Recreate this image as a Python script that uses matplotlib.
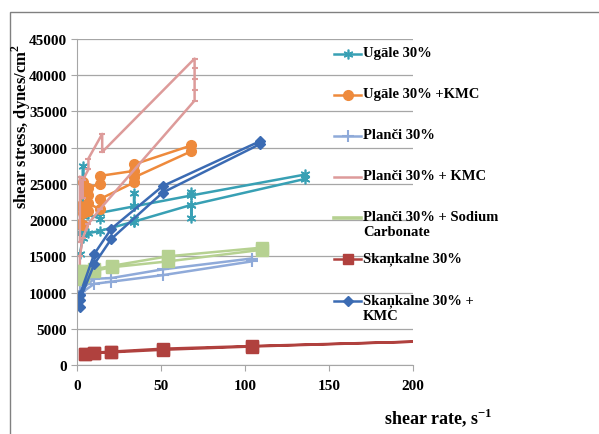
import matplotlib
matplotlib.use('Agg')
import matplotlib.pyplot as plt
from matplotlib.lines import Line2D
from matplotlib.patches import Rectangle

plt.rcParams['font.family'] = ['Liberation Serif', 'DejaVu Serif']
plt.rcParams['font.weight'] = 'bold'
plt.rcParams['mathtext.fontset'] = 'custom'
plt.rcParams['mathtext.rm'] = 'Liberation Serif:bold'

# series: shear rate (x) and shear stress (y), up curve then down curve
ugale_x = [1.7, 3.4, 6.8, 13.6, 34, 34, 34, 68, 68, 68, 136, 136, 68, 68, 68, 34, 34, 34, 13.6, 13.6, 6.8, 3.4, 3.4, 1.7, 1.7]
ugale_y = [15300, 17500, 18200, 18500, 19800, 20200, 19800, 22100, 20300, 22100, 25700, 26300, 23400, 23900, 23400, 21900, 23800, 21900, 21000, 20200, 20800, 27500, 20500, 19000, 18200]

ugale_kmc_x = [1.7, 3.4, 3.4, 6.8, 6.8, 13.6, 13.6, 34, 34, 68, 68, 34, 34, 13.6, 13.6, 6.8, 6.8, 3.4, 1.7]
ugale_kmc_y = [19500, 19300, 21000, 21300, 22300, 21500, 22900, 25200, 25900, 29500, 30300, 27700, 26800, 26100, 25000, 24500, 23400, 25200, 22000]

planci_x = [1.7, 10.2, 20.4, 51, 104, 104, 51, 20.4, 10.2, 1.7]
planci_y = [9800, 11200, 11500, 12400, 14300, 14700, 13200, 12000, 11900, 10200]

planci_kmc_x = [1.7, 1.7, 3.4, 6.8, 13.6, 70, 70, 70, 70, 70, 15, 15, 6.8, 6.8, 3.4, 3.4, 1.7, 1.7]
planci_kmc_y = [13500, 15000, 17500, 19500, 21500, 36500, 38000, 39500, 41000, 42300, 29400, 31900, 28500, 27000, 25500, 23000, 26000, 17000]

planci_sc_x = [1.7, 1.7, 3.4, 10.2, 21, 54, 110, 110, 54, 21, 10.2, 3.4, 1.7]
planci_sc_y = [12000, 11900, 12300, 13000, 13500, 14300, 15900, 16200, 15000, 13700, 13200, 13000, 13000]

skankalne_x = [5, 10.2, 20.4, 51, 104, 208, 104, 51, 20.4, 10.2, 5]
skankalne_y = [1500, 1650, 1750, 2100, 2550, 3270, 2620, 2250, 1850, 1700, 1550]

skankalne_kmc_x = [1.7, 1.7, 10.2, 20.4, 51, 109, 109, 51, 20.4, 10.2, 1.7]
skankalne_kmc_y = [8000, 9000, 13900, 17400, 23800, 30500, 30900, 24700, 18800, 15300, 9700]

labels = ['Ugāle 30%', 'Ugāle 30% +KMC', 'Planči 30%', 'Planči 30% + KMC',
          'Planči 30% + Sodium\nCarbonate', 'Skaņkalne 30%', 'Skaņkalne 30% +\nKMC']
x_ticks = [0, 50, 100, 150, 200]
y_ticks = [0, 5000, 10000, 15000, 20000, 25000, 30000, 35000, 40000, 45000]

W, H = 599, 435


def fx(px):
    return px / W


def fy(py):
    return 1 - py / H


fig = plt.figure(figsize=(W / 100, H / 100), dpi=100)
ax = fig.add_axes([fx(77), fy(366), (413 - 77) / W, (366 - 40) / H])

star = (6, 2, 0)
styles = [
    dict(color='#38A0B4', marker=star, ms=7, mew=1.2),
    dict(color='#EE8A3C', marker='o', ms=7),
    dict(color='#8FAAD9', marker='+', ms=8, mew=1.5),
    dict(color='#DD9B9A', marker='_', ms=5, mew=1.5),
    dict(color='#B6D191', marker='s', ms=9),
    dict(color='#B0413E', marker='s', ms=8),
    dict(color='#3B6BB3', marker='D', ms=5),
]
series = [(ugale_x, ugale_y), (ugale_kmc_x, ugale_kmc_y), (planci_x, planci_y),
          (planci_kmc_x, planci_kmc_y), (planci_sc_x, planci_sc_y),
          (skankalne_x, skankalne_y), (skankalne_kmc_x, skankalne_kmc_y)]

for (xs, ys), st in zip(series, styles):
    ax.plot(xs, ys, lw=1.8, **st)

ax.set_xlim(0, 200)
ax.set_ylim(0, 45000)
ax.set_xticks(x_ticks)
ax.set_yticks(y_ticks)
ax.grid(axis='y', color='#A6A6A6', lw=0.9)
ax.set_axisbelow(True)
for s in ['top', 'right']:
    ax.spines[s].set_visible(False)
for s in ['left', 'bottom']:
    ax.spines[s].set_color('#A6A6A6')
ax.tick_params(length=4, color='#A6A6A6', labelsize=11, pad=3)
ax.tick_params(axis='x', pad=6)

fig.text(fx(21), fy(126), 'shear stress, dynes/cm$^{2}$', rotation=90,
         ha='center', va='center', fontsize=12, fontweight='bold')
fig.text(fx(438), fy(418), 'shear rate, s$^{-1}$', ha='center', va='center',
         fontsize=13, fontweight='bold')

# legend drawn by hand so the handle sits on the first line of wrapped labels
leg_y = [55, 96, 137, 178, 219, 260, 302]
for lab, st, py in zip(labels, styles, leg_y):
    hs = dict(st)
    if lab.startswith('Planči 30% +'):
        hs['marker'] = None
    if 'Sodium' in lab:
        lw = 2.6
    else:
        lw = 1.8
    if hs.get('marker') == 's':
        hs['ms'] = 7
    fig.add_artist(Line2D([fx(334), fx(361)], [fy(py), fy(py)], lw=lw,
                          transform=fig.transFigure, **{k: v for k, v in hs.items() if k != 'marker'}))
    if hs.get('marker'):
        fig.add_artist(Line2D([fx(347.5)], [fy(py)], transform=fig.transFigure, lw=0, **hs))
    fig.text(fx(363), fy(py - 8), lab, ha='left', va='top', fontsize=10.5,
             fontweight='bold', linespacing=1.25)

fig.add_artist(Rectangle((fx(10), -0.1), 1.2, fy(13) + 0.1, transform=fig.transFigure,
                         fill=False, ec='#808080', lw=1))

fig.savefig('out.png', dpi=100)
